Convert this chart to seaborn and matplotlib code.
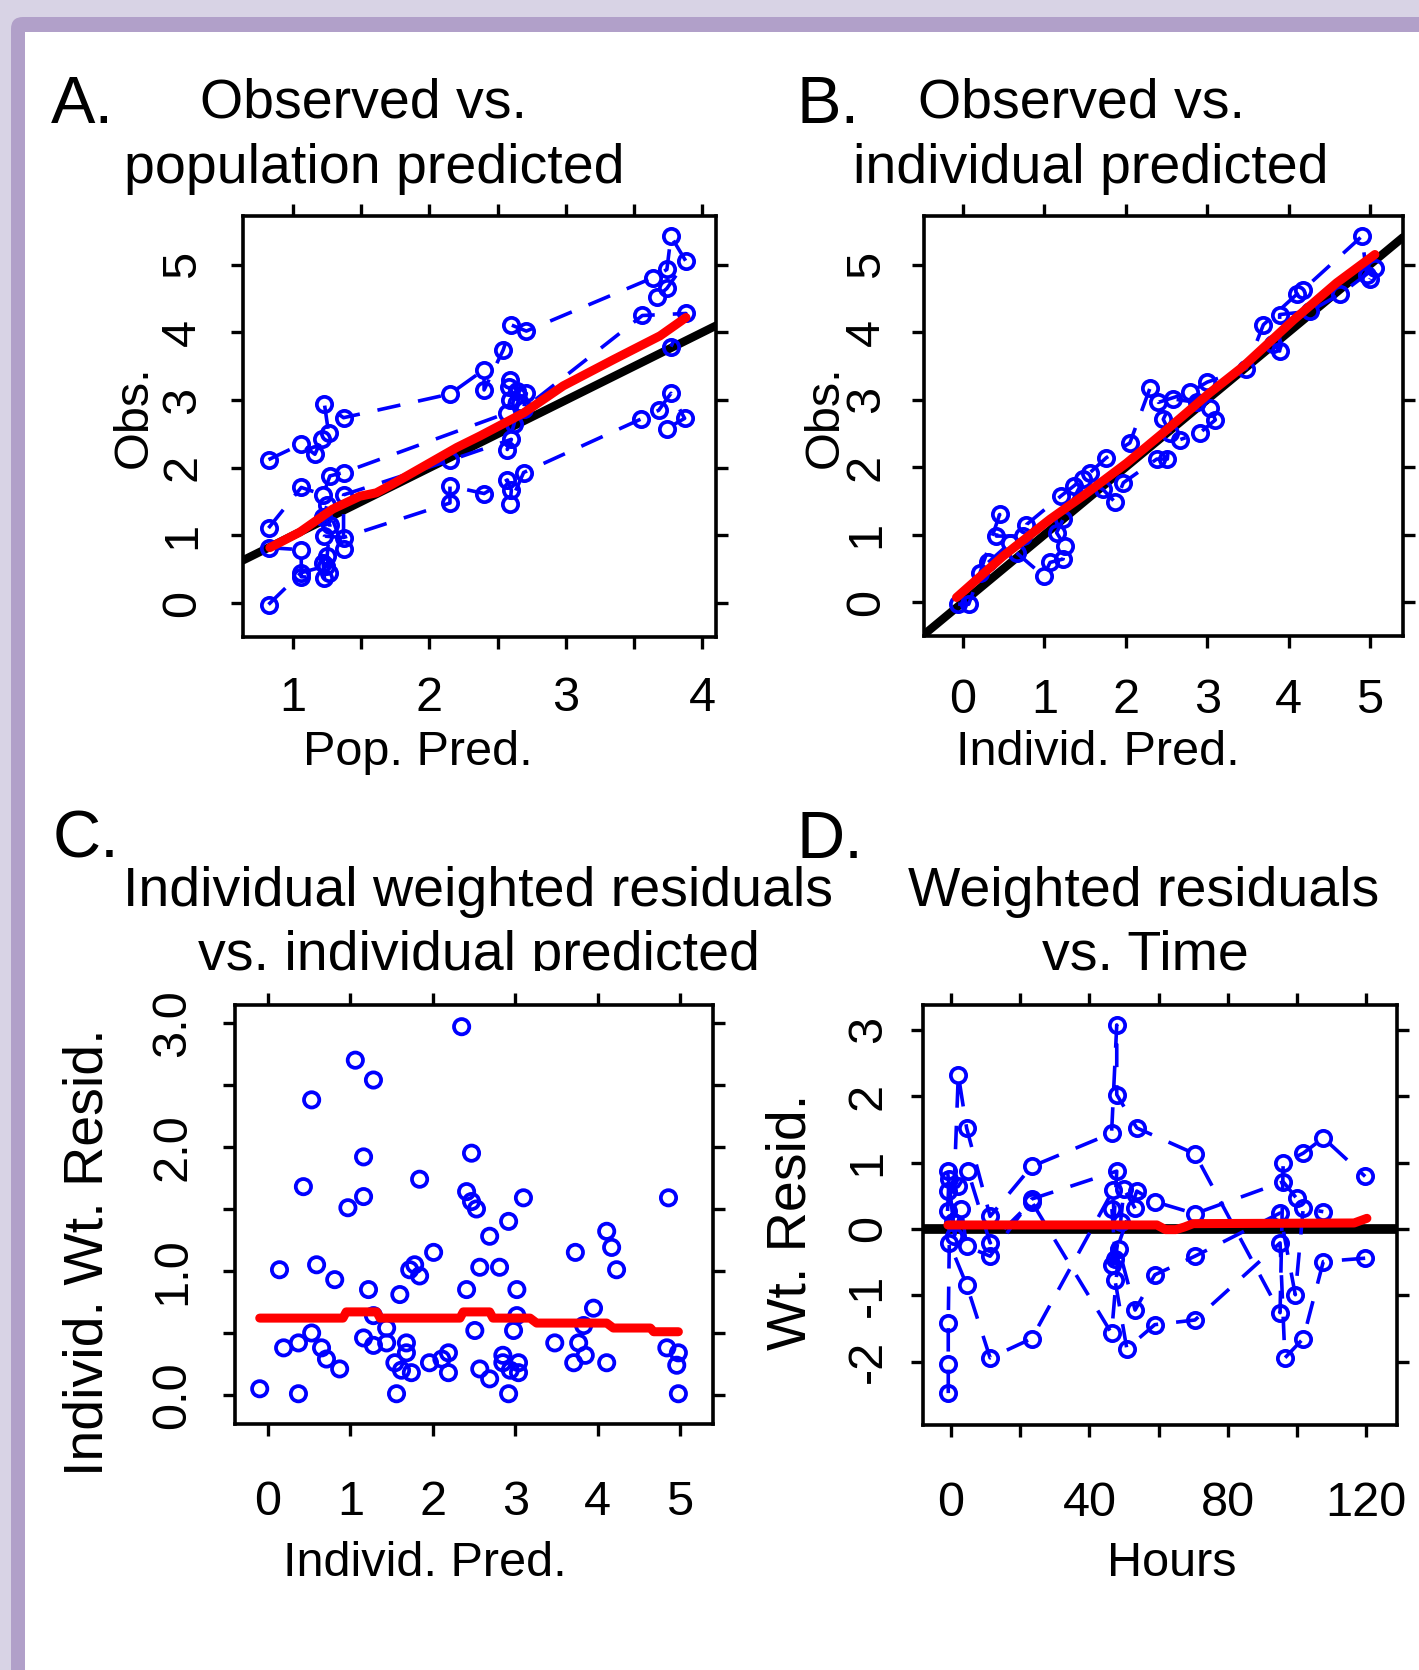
import pandas as pd
import seaborn as sns
import matplotlib.pyplot as plt
from matplotlib.patches import FancyBboxPatch, Rectangle
from matplotlib.transforms import Bbox, TransformedBbox

########################################################
# Data
########################################################
# A. observed vs population predicted, one list per subject
A1_PRED = [0.82, 1.06, 1.16, 1.21, 1.26, 1.23, 1.37, 2.15, 2.40, 2.40, 2.54, 2.60, 2.71, 3.64, 3.74, 3.77, 3.88, 3.74, 3.67]
A1_OBS = [2.12, 2.35, 2.20, 2.42, 2.52, 2.94, 2.74, 3.09, 3.45, 3.15, 3.74, 4.11, 4.02, 4.81, 4.93, 5.42, 5.05, 4.65, 4.53]
A2_PRED = [0.82, 1.06, 1.22, 1.27, 1.37, 2.57, 2.59, 2.64, 2.59, 2.71, 2.69, 3.56, 3.88, 3.77]
A2_OBS = [1.11, 1.71, 1.60, 1.88, 1.93, 2.81, 3.00, 3.13, 3.30, 3.10, 2.87, 4.25, 4.28, 3.79]
A3_PRED = [0.82, 1.06, 1.06, 1.23, 1.22, 1.23, 1.37, 2.15, 2.15, 2.40, 2.57, 2.60, 2.59, 2.69, 3.55, 3.68, 3.77, 3.87, 3.74]
A3_OBS = [0.82, 0.79, 0.39, 0.37, 0.59, 0.99, 0.97, 1.48, 1.73, 1.62, 1.82, 1.67, 1.47, 1.93, 2.72, 2.85, 3.10, 2.73, 2.58]
A4_PRED = [0.82, 1.06, 1.24, 1.26, 1.25, 1.27, 1.22, 1.25, 1.37, 1.37, 2.15, 2.60, 2.57, 2.62, 2.66, 2.58]
A4_OBS = [-0.02, 0.45, 0.55, 0.45, 0.70, 1.15, 1.28, 1.45, 0.80, 1.60, 2.11, 2.42, 2.27, 2.65, 2.95, 3.20]
A_SMOOTH_X = [0.83, 1.05, 1.29, 1.49, 1.61, 1.73, 2.00, 2.20, 2.37, 2.69, 2.98, 3.35, 3.69, 3.88]
A_SMOOTH_Y = [0.82, 1.05, 1.39, 1.58, 1.63, 1.76, 2.07, 2.30, 2.47, 2.81, 3.21, 3.60, 3.95, 4.22]

# B. observed vs individual predicted
B1_PRED = [-0.06, 0.07, 0.21, 0.45, 0.41, 0.74, 0.78, 1.21, 1.36, 1.56, 1.76, 2.05, 2.30, 2.40, 2.79, 3.00, 3.48, 3.69, 4.10, 4.18, 4.90, 4.96]
B1_OBS = [-0.03, -0.03, 0.44, 1.30, 0.98, 0.98, 1.15, 1.58, 1.72, 1.92, 2.14, 2.36, 3.18, 2.96, 3.11, 3.26, 3.46, 4.11, 4.56, 4.63, 5.42, 4.85]
B2_PRED = [0.31, 0.58, 0.66, 0.99, 1.07, 1.23, 1.25, 1.15, 1.23, 1.48, 1.72, 1.87, 1.97, 2.38, 2.51, 2.54, 2.46, 2.58, 2.87, 3.04, 3.10, 2.91, 2.67]
B2_OBS = [0.59, 0.88, 0.73, 0.39, 0.59, 0.64, 0.84, 1.03, 1.23, 1.82, 1.67, 1.48, 1.77, 2.12, 2.12, 2.51, 2.71, 3.01, 2.96, 2.87, 2.70, 2.51, 2.41]
B3_PRED = [3.81, 3.89, 3.89, 4.26, 4.63, 5.06, 5.00]
B3_OBS = [3.82, 3.72, 4.26, 4.31, 4.56, 4.95, 4.78]
B_SMOOTH_X = [-0.08, 0.50, 1.07, 1.48, 2.01, 2.46, 3.03, 3.44, 4.06, 4.59, 5.06]
B_SMOOTH_Y = [0.07, 0.69, 1.23, 1.58, 2.06, 2.51, 3.10, 3.49, 4.18, 4.73, 5.15]

# C. individual weighted residuals vs individual predicted
C_PRED = [-0.10, 0.14, 0.37, 0.19, 0.37, 0.53, 0.43, 0.53, 0.59, 0.65,
          0.71, 0.81, 0.87, 0.97, 1.06, 1.16, 1.16, 1.22, 1.16, 1.28,
          1.28, 1.28, 1.44, 1.44, 1.60, 1.68, 1.68, 1.54, 1.62, 1.74,
          1.56, 1.72, 1.78, 1.84, 1.84, 2.01, 1.96, 2.11, 2.19, 2.19,
          2.35, 2.47, 2.41, 2.47, 2.53, 2.41, 2.51, 2.57, 2.57, 2.69,
          2.69, 2.81, 2.85, 2.85, 2.92, 2.94, 2.92, 3.02, 3.02, 2.98,
          3.04, 3.04, 3.10, 3.48, 3.73, 3.71, 3.77, 3.85, 3.83, 3.95,
          4.11, 4.17, 4.23, 4.11, 4.86, 4.84, 4.98, 4.96, 4.98]
C_IWRES = [0.05, 1.01, 0.01, 0.38, 0.42, 0.50, 1.68, 2.38, 1.05, 0.38,
           0.29, 0.93, 0.21, 1.51, 2.70, 1.92, 1.60, 0.85, 0.46, 0.40,
           2.54, 0.64, 0.54, 0.42, 0.81, 0.42, 0.34, 0.26, 0.20, 0.18,
           0.01, 1.01, 1.05, 0.96, 1.74, 1.15, 0.26, 0.29, 0.34, 0.18,
           2.97, 1.95, 1.64, 1.56, 1.50, 0.85, 0.52, 1.03, 0.21, 1.28,
           0.13, 1.03, 0.32, 0.26, 0.01, 0.20, 1.40, 0.85, 0.64, 0.52,
           0.26, 0.18, 1.59, 0.42, 1.15, 0.26, 0.42, 0.32, 0.56, 0.70,
           1.32, 1.19, 1.01, 0.26, 1.59, 0.38, 0.34, 0.24, 0.01]
C_SMOOTH_X = [-0.10, 0.91, 0.95, 1.32, 1.36, 2.33, 2.37, 2.69, 2.73, 3.18, 3.26, 4.11, 4.19, 4.64, 4.68, 4.98]
C_SMOOTH_Y = [0.62, 0.62, 0.67, 0.67, 0.62, 0.62, 0.67, 0.67, 0.62, 0.62, 0.58, 0.58, 0.54, 0.54, 0.51, 0.51]

# D. weighted residuals vs time (hours), one list per subject
D1_T = [-1.0, 0.5, 2.1, 4.5, 11.3, 23.3, 46.4, 47.9, 47.9, 53.7, 70.5, 95.1, 96.0, 101.8, 107.6, 119.7]
D1_W = [0.87, 0.10, 2.32, 1.52, 0.19, 0.94, 1.44, 3.07, 2.02, 1.52, 1.13, -1.26, 0.99, 1.14, 1.37, 0.79]
D2_T = [-0.8, -0.8, -0.8, -0.5, 4.5, 11.3, 23.3, 46.9, 47.4, 50.8, 58.9, 70.5, 95.1, 96.5, 101.8, 107.6, 119.7]
D2_W = [-2.47, -2.03, -1.42, -0.21, -0.84, -1.94, -1.65, 0.59, -0.77, -1.80, -1.44, -1.37, -0.21, -1.94, -1.65, -0.49, -0.44]
D3_T = [-1.0, 2.1, 4.9, 11.3, 23.3, 46.4, 48.5, 53.2, 58.9, 70.5, 95.1, 99.5, 101.8, 107.6]
D3_W = [0.57, 0.64, 0.87, -0.21, 0.41, -1.57, -0.30, -1.22, -0.69, -0.41, 0.24, -0.99, 0.31, 0.26]
D4_T = [-1.0, -0.6, 1.0, 3.0, 4.5, 11.3, 23.3, 47.9, 46.4, 53.7, 58.9, 70.5, 96.0, 99.9]
D4_W = [0.27, 0.75, -0.10, 0.30, -0.26, -0.41, 0.45, 0.87, -0.54, 0.57, 0.41, 0.23, 0.71, 0.46]
D5_T = [46.5, 47.5, 49.0, 50.0, 53.2]
D5_W = [0.30, -0.45, 0.10, 0.60, 0.31]
D_SMOOTH_X = [-0.9, 59.5, 62.0, 65.0, 67.5, 70.0, 116.5, 120.2]
D_SMOOTH_Y = [0.06, 0.06, -0.01, -0.01, 0.03, 0.08, 0.09, 0.16]

# ticks
A_XTICKS = [1, 1.5, 2, 2.5, 3, 3.5, 4]
A_XLABELS = ['1', '', '2', '', '3', '', '4']
OBS_TICKS = [0, 1, 2, 3, 4, 5]
B_XTICKS = [0, 1, 2, 3, 4, 5]
C_YTICKS = [0, 0.5, 1, 1.5, 2, 2.5, 3]
C_YLABELS = ['0.0', '', '1.0', '', '2.0', '', '3.0']
D_XTICKS = [0, 20, 40, 60, 80, 100, 120]
D_XLABELS = ['0', '', '40', '', '80', '', '120']
D_YTICKS = [-2, -1, 0, 1, 2, 3]


def subject_frame(groups):
    frames = []
    for i, (xs, ys) in enumerate(groups):
        frames.append(pd.DataFrame({'x': xs, 'y': ys, 'subject': i}))
    return pd.concat(frames, ignore_index=True)


dfA = subject_frame([(A1_PRED, A1_OBS), (A2_PRED, A2_OBS), (A3_PRED, A3_OBS), (A4_PRED, A4_OBS)])
dfB = subject_frame([(B1_PRED, B1_OBS), (B2_PRED, B2_OBS), (B3_PRED, B3_OBS)])
dfD = subject_frame([(D1_T, D1_W), (D2_T, D2_W), (D3_T, D3_W), (D4_T, D4_W), (D5_T, D5_W)])

########################################################
# Figure + framed background
########################################################
sns.set_style("ticks")
plt.rcParams['font.family'] = ['Liberation Sans', 'DejaVu Sans']

W, H = 1419, 1670
BLUE, RED = '#0000ff', '#ff0000'
fig = plt.figure(figsize=(W / 100, H / 100), dpi=100)
fig.patch.set_facecolor('#d8d3e5')
fig.add_artist(FancyBboxPatch((0.11, -1), 20, 17.53, boxstyle='round,pad=0,rounding_size=0.12',
                              transform=fig.dpi_scale_trans, fc='#b1a0c9', ec='none', zorder=-2))
fig.add_artist(Rectangle((0.25, -1), 20, 17.38, transform=fig.dpi_scale_trans,
                         fc='white', ec='none', zorder=-1))


def add_axes(left, top, right, bottom):
    return fig.add_axes([left / W, 1 - bottom / H, (right - left) / W, (bottom - top) / H])


def style_axes(ax, xlim, ylim, xticks, xlabels, yticks, ylabels, xpad, ypad):
    ax.set_xlim(xlim)
    ax.set_ylim(ylim)
    ax.set_xticks(xticks)
    ax.set_xticklabels(xlabels)
    ax.set_yticks(yticks)
    ax.set_yticklabels(ylabels, rotation=90, va='center')
    ax.set_xlabel('')
    ax.set_ylabel('')
    ax.tick_params(direction='out', length=8.3, width=2.4, top=True, right=True,
                   bottom=True, left=True, labelsize=35, colors='black')
    ax.tick_params(axis='x', pad=xpad)
    ax.tick_params(axis='y', pad=ypad)
    for sp in ax.spines.values():
        sp.set_visible(True)
        sp.set_linewidth(2.6)
        sp.set_color('black')


def draw_subjects(ax, df):
    sns.lineplot(data=df, x='x', y='y', units='subject', estimator=None, sort=False,
                 color=BLUE, lw=2.6, linestyle=(0, (6.5, 5)), marker='o', markersize=11,
                 markerfacecolor='none', markeredgecolor=BLUE, markeredgewidth=2.7,
                 legend=False, ax=ax, zorder=3)


def draw_smooth(ax, xs, ys):
    sns.lineplot(x=xs, y=ys, sort=False, estimator=None, color=RED, lw=6.5,
                 solid_capstyle='round', ax=ax, zorder=4)


axA = add_axes(243, 216, 716, 637)
axB = add_axes(924, 216, 1403, 636)
axC = add_axes(235, 1005, 713, 1424)
axD = add_axes(923, 1005, 1397, 1425)

# A
axA.axline((0, 0), (1, 1), color='black', lw=6, zorder=2)
draw_subjects(axA, dfA)
draw_smooth(axA, A_SMOOTH_X, A_SMOOTH_Y)
style_axes(axA, (0.633, 4.10), (-0.50, 5.72), A_XTICKS, A_XLABELS,
           OBS_TICKS, [str(t) for t in OBS_TICKS], 20, 19)

# B
axB.axline((0, 0), (1, 1), color='black', lw=6, zorder=2)
draw_subjects(axB, dfB)
draw_smooth(axB, B_SMOOTH_X, B_SMOOTH_Y)
style_axes(axB, (-0.479, 5.405), (-0.50, 5.72), B_XTICKS, [str(t) for t in B_XTICKS],
           OBS_TICKS, [str(t) for t in OBS_TICKS], 22, 17)

# C
sns.scatterplot(x=C_PRED, y=C_IWRES, ax=axC, marker='o', s=121, facecolor='none',
                edgecolor=BLUE, linewidth=2.7, zorder=3)
draw_smooth(axC, C_SMOOTH_X, C_SMOOTH_Y)
style_axes(axC, (-0.40, 5.40), (-0.234, 3.145), B_XTICKS, [str(t) for t in B_XTICKS],
           C_YTICKS, C_YLABELS, 32, 20.5)

# D
axD.axhline(0, color='black', lw=7, zorder=2)
draw_subjects(axD, dfD)
draw_smooth(axD, D_SMOOTH_X, D_SMOOTH_Y)
style_axes(axD, (-8.1, 128.9), (-2.95, 3.37), D_XTICKS, D_XLABELS,
           D_YTICKS, [str(t) for t in D_YTICKS], 32, 15)

########################################################
# Text (placed in figure pixels)
########################################################
def ftext(x, y, s, size, **kw):
    return fig.text(x / W, 1 - y / H, s, fontsize=size, color='black', **kw)


for letter, x, y in [('A.', 51, 123), ('B.', 797, 123), ('C.', 53, 858), ('D.', 797, 858)]:
    ftext(x, y, letter, 48, ha='left', va='baseline')

ftext(364, 117, 'Observed vs.', 40, ha='center', va='baseline')
ftext(374, 183, 'population predicted', 40, ha='center', va='baseline')
ftext(1082, 117, 'Observed vs.', 40, ha='center', va='baseline')
ftext(1091, 183, 'individual predicted', 40, ha='center', va='baseline')
ftext(478, 906, 'Individual weighted residuals', 40, ha='center', va='baseline')
ftext(1144, 906, 'Weighted residuals', 40, ha='center', va='baseline')

clip = TransformedBbox(Bbox([[0, 1 - 971 / H], [1, 1]]), fig.transFigure)
for s, x in [('vs. individual predicted', 479), ('vs. Time', 1145)]:
    t = ftext(x, 970, s, 40, ha='center', va='baseline')
    t.set_clip_box(clip)
    t.set_clip_on(True)

ftext(418, 765, 'Pop. Pred.', 35, ha='center', va='baseline')
ftext(1098, 765, 'Individ. Pred.', 35, ha='center', va='baseline')
ftext(425, 1576, 'Individ. Pred.', 35, ha='center', va='baseline')
ftext(1172, 1576, 'Hours', 35, ha='center', va='baseline')

for s, x, y, size in [('Obs.', 147, 417, 35), ('Obs.', 838, 417, 35),
                      ('Individ. Wt. Resid.', 103, 1252, 40), ('Wt. Resid.', 806, 1222, 40)]:
    ftext(x, y, s, size, rotation=90, rotation_mode='anchor', ha='center', va='baseline')

plt.savefig('out.png', dpi=100, facecolor=fig.get_facecolor())
